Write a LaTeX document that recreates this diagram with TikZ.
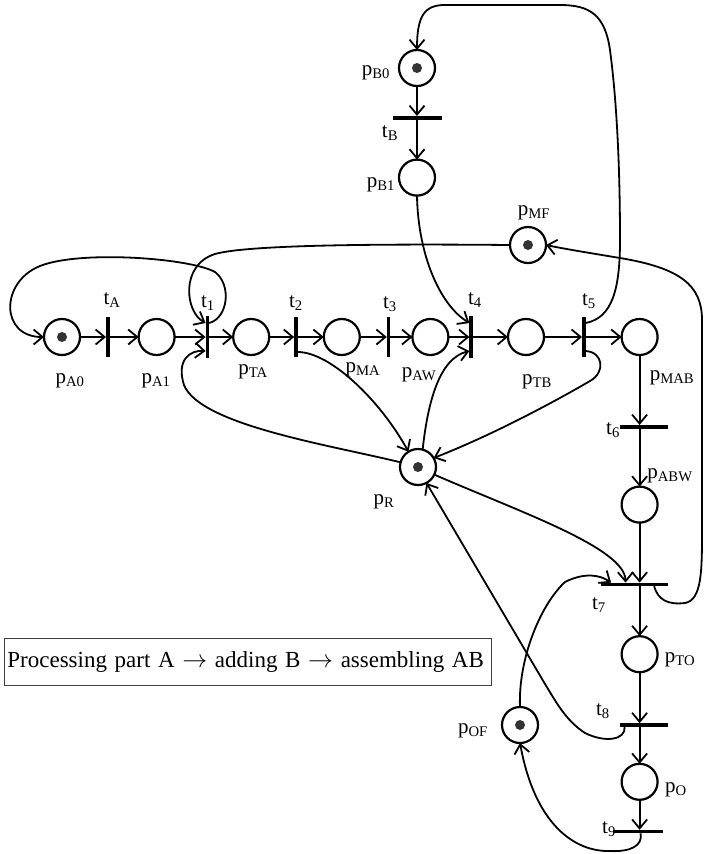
\documentclass[tikz,border=0pt]{standalone}
\usepackage{fontspec}
\setmainfont{Liberation Serif}
\usetikzlibrary{arrows.meta,positioning,calc}
\tikzset{
    placenode/.style={
        circle,draw,line width=2.2pt,minimum size=36pt,inner sep=0pt,outer sep=0pt
    },
    tokennode/.style={
        placenode,path picture={\fill[black!80] (path picture bounding box.center) circle (5pt);}
    },
    vtrans/.style={
        rectangle,fill,draw=none,minimum width=3.6pt,minimum height=40pt,inner sep=0pt,outer sep=0pt
    },
    htrans/.style={
        rectangle,fill,draw=none,minimum height=3.6pt,inner sep=0pt,outer sep=0pt
    },
    labelnode/.style={
        inner sep=0pt
    },
    arcline/.style={
        ->,line width=1.8pt
    }
}

\begin{document}
\begin{tikzpicture}[x=1pt,y=1pt,>={Straight Barb[length=9pt,width=15pt]},font=\fontsize{21}{25}\selectfont]
\useasboundingbox (0,0) rectangle (705,-854);
% main row
\node[tokennode] (pA0) at (62,-337) {};
\node[vtrans,right=26pt of pA0] (tA) {};
\node[placenode,right=29pt of tA] (pA1) {};
\node[vtrans,minimum height=42pt,right=31pt of pA1] (t1) {};
\node[placenode,right=24pt of t1] (pTA) {};
\node[vtrans,right=25pt of pTA] (t2) {};
\node[placenode,right=26pt of t2] (pMA) {};
\node[vtrans,right=27pt of pMA] (t3) {};
\node[placenode,right=22pt of t3] (pAW) {};
\node[vtrans,minimum height=42pt,right=21pt of pAW] (t4) {};
\node[placenode,right=35pt of t4] (pTB) {};
\node[vtrans,right=38pt of pTB] (t5) {};
\node[placenode,right=36pt of t5] (pMAB) {};
% right column
\node[htrans,minimum width=48pt,below=70pt of pMAB,xshift=4pt] (t6) {};
\node[placenode,below=58pt of t6,xshift=-4pt] (pABW) {};
\node[htrans,minimum width=67pt,below=60pt of pABW,xshift=-5.5pt] (t7) {};
\node[placenode,below=50pt of t7,xshift=5.5pt] (pTO) {};
\node[htrans,minimum width=48pt,below=51pt of pTO,xshift=4pt] (t8) {};
\node[placenode,below=37pt of t8,xshift=-4pt] (pO) {};
\node[htrans,minimum width=50pt,below=30pt of pO,xshift=-2pt] (t9) {};
% part B
\node[tokennode] (pB0) at (417,-68) {};
\node[htrans,minimum width=49pt,below=30pt of pB0] (tB) {};
\node[placenode,below=40pt of tB] (pB1) {};
% resources
\node[tokennode] (pMF) at (528,-245) {};
\node[tokennode] (pR) at (418,-467) {};
\node[tokennode] (pOF) at (520,-725) {};

% labels
\node[labelnode] (lA0) at (70,-381) {p\textsubscript{A0}};
\node[labelnode] (lA1) at (156,-381) {p\textsubscript{A1}};
\node[labelnode] (lTA) at (253,-372) {p\textsubscript{TA}};
\node[labelnode] (lMA) at (363,-370) {p\textsubscript{MA}};
\node[labelnode] (lAW) at (419,-375) {p\textsubscript{AW}};
\node[labelnode] (lTB) at (537,-382) {p\textsubscript{TB}};
\node[labelnode] (lMAB) at (672,-378) {p\textsubscript{MAB}};
\node[labelnode] (ltA) at (112,-300) {t\textsubscript{A}};
\node[labelnode] (lt1) at (208,-303) {t\textsubscript{1}};
\node[labelnode] (lt2) at (296,-303) {t\textsubscript{2}};
\node[labelnode] (lt3) at (390,-304) {t\textsubscript{3}};
\node[labelnode] (lt4) at (475,-300) {t\textsubscript{4}};
\node[labelnode] (lt5) at (589,-301) {t\textsubscript{5}};
\node[labelnode] (lB0) at (376,-73) {p\textsubscript{B0}};
\node[labelnode] (ltB) at (390,-133) {t\textsubscript{B}};
\node[labelnode] (lB1) at (381,-185) {p\textsubscript{B1}};
\node[labelnode] (lMF) at (534,-213) {p\textsubscript{MF}};
\node[labelnode] (lt6) at (613,-430) {t\textsubscript{6}};
\node[labelnode] (lABW) at (670,-476) {p\textsubscript{ABW}};
\node[labelnode] (lt7) at (599,-605) {t\textsubscript{7}};
\node[labelnode] (lTO) at (680,-660) {p\textsubscript{TO}};
\node[labelnode] (lt8) at (603,-711) {t\textsubscript{8}};
\node[labelnode] (lOF) at (473,-731) {p\textsubscript{OF}};
\node[labelnode] (lO) at (676,-790) {p\textsubscript{O}};
\node[labelnode] (lt9) at (609,-829) {t\textsubscript{9}};
\node[labelnode] (lR) at (384,-502) {p\textsubscript{R}};

\node[draw=black!75,line width=0.8pt,anchor=north west,inner sep=3pt,text width=481pt,minimum height=47pt,align=left,font=\fontsize{23}{27}\selectfont] (note) at (4,-638) {Processing part A $\rightarrow$ adding B $\rightarrow$ assembling AB};

% straight arcs
\draw[arcline] (pA0) -- (tA);
\draw[arcline] (tA) -- (pA1);
\draw[arcline] (pA1) -- (t1);
\draw[arcline] (t1) -- (pTA);
\draw[arcline] (pTA) -- (t2);
\draw[arcline] (t2) -- (pMA);
\draw[arcline] (pMA) -- (t3);
\draw[arcline] (t3) -- (pAW);
\draw[arcline] (pAW) -- (t4);
\draw[arcline] (t4) -- (pTB);
\draw[arcline] (pTB) -- (t5);
\draw[arcline] (t5) -- (pMAB);
\draw[arcline] (pMAB) -- (pMAB |- t6.north);
\draw[arcline] (pABW |- t6.south) -- (pABW);
\draw[arcline] (pABW) -- (pABW |- t7.north);
\draw[arcline] (pTO |- t7.south) -- (pTO);
\draw[arcline] (pTO) -- (pTO |- t8.north);
\draw[arcline] (pO |- t8.south) -- (pO);
\draw[arcline] (pO) -- (pO |- t9.north);
\draw[arcline] (pB0) -- (tB);
\draw[arcline] (tB) -- (pB1);

% curved arcs
\draw[arcline] ([yshift=14pt]t1.east) .. controls (228,-318) and (232,-285) .. (215,-272) .. controls (190,-258) and (80,-250) .. (40,-266) .. controls (0,-282) and (0,-337) .. (pA0.west);
\draw[arcline] (pMF.west) .. controls (400,-244) and (250,-244) .. (215,-254) .. controls (180,-265) and (185,-312) .. ([yshift=14pt]t1.west);
\draw[arcline] (pR.165) .. controls (330,-445) and (200,-425) .. (184,-385) .. controls (176,-360) and (190,-350) .. ([yshift=-14pt]t1.west);
\draw[arcline] ([yshift=-15pt]t2.east) .. controls (330,-352) and (380,-400) .. (pR.122);
\draw[arcline] (pR.75) .. controls (428,-400) and (440,-358) .. ([yshift=-14pt]t4.west);
\draw[arcline] (pB1.south) .. controls (418,-255) and (440,-305) .. ([yshift=14pt]t4.west);
\draw[arcline] ([yshift=-14pt]t5.east) .. controls (603,-352) and (606,-372) .. (590,-381) .. controls (566,-395) and (500,-432) .. (pR.30);
\draw[arcline] ([yshift=14pt]t5.east) .. controls (612,-318) and (620,-290) .. (620,-240) .. controls (620,-140) and (614,-80) .. (610,-50) .. controls (605,-15) and (590,-5) .. (560,-5) -- (445,-5) .. controls (425,-5) and (417,-15) .. (pB0.north);
\draw[arcline] ([xshift=20pt]t7.south) .. controls (658,-600) and (668,-605) .. (685,-603) .. controls (702,-600) and (702,-570) .. (702,-530) -- (702,-320) .. controls (702,-285) and (680,-268) .. (620,-258) .. controls (590,-253) and (565,-249) .. (pMF.east);
\draw[arcline] (pR.-25) .. controls (520,-512) and (625,-548) .. ([xshift=-8.5pt]t7.north);
\draw[arcline] (pOF.north) .. controls (518,-660) and (540,-605) .. (565,-582) .. controls (585,-572) and (600,-575) .. ([xshift=-23pt]t7.north);
\draw[arcline] ([xshift=-19pt]t8.south) .. controls (626,-740) and (605,-743) .. (585,-733) .. controls (565,-720) and (555,-700) .. (545,-684) -- (pR.-62);
\draw[arcline] ([xshift=3pt]t9.south) .. controls (643,-846) and (630,-852) .. (610,-851) .. controls (575,-852) and (535,-825) .. (pOF.south);
\end{tikzpicture}
\end{document}
